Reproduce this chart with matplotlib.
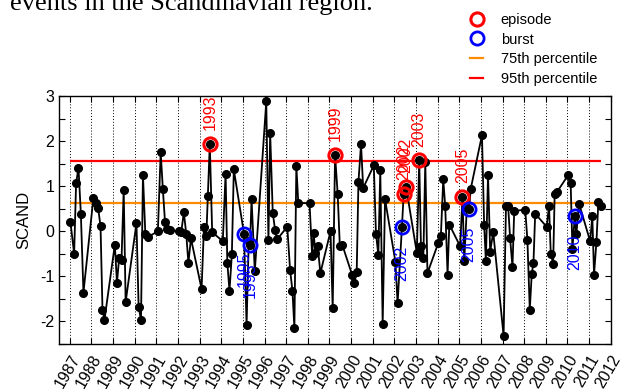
import matplotlib
matplotlib.use("Agg")
import matplotlib.pyplot as plt
from matplotlib.lines import Line2D

plt.rcParams['font.family'] = ['Liberation Sans', 'DejaVu Sans']

# ---- data ----
dates = [
    1987.03, 1987.20, 1987.29, 1987.40, 1987.51, 1987.63,
    1988.09, 1988.19, 1988.31, 1988.42, 1988.51, 1988.60,
    1989.08, 1989.18, 1989.28, 1989.39, 1989.49, 1989.58,
    1990.08, 1990.18, 1990.29, 1990.38, 1990.49, 1990.60,
    1991.07, 1991.20, 1991.30, 1991.40, 1991.50, 1991.62,
    1992.04, 1992.15, 1992.27, 1992.38, 1992.48, 1992.60,
    1993.09, 1993.20, 1993.31, 1993.38, 1993.47, 1993.58,
    1994.07, 1994.20, 1994.28, 1994.38, 1994.49, 1994.58,
    1995.05, 1995.17, 1995.27, 1995.33, 1995.40, 1995.55,
    1996.08, 1996.18, 1996.26, 1996.38, 1996.49, 1996.58,
    1997.05, 1997.18, 1997.29, 1997.38, 1997.47, 1997.56,
    1998.08, 1998.20, 1998.27, 1998.35, 1998.46, 1998.58,
    1999.05, 1999.15, 1999.26, 1999.38, 1999.48, 1999.60,
    2000.05, 2000.15, 2000.26, 2000.34, 2000.46, 2000.56,
    2001.05, 2001.15, 2001.26, 2001.35, 2001.46, 2001.57,
    2002.05, 2002.15, 2002.35, 2002.43, 2002.54,
    2003.04, 2003.15, 2003.23, 2003.34, 2003.43, 2003.53,
    2004.03, 2004.15, 2004.26, 2004.35, 2004.46, 2004.54,
    2005.04, 2005.15, 2005.23, 2005.35, 2005.46, 2005.53,
    2006.05, 2006.15, 2006.23, 2006.33, 2006.43, 2006.57,
    2007.05, 2007.16, 2007.26, 2007.35, 2007.46, 2007.54,
    2008.05, 2008.15, 2008.26, 2008.35, 2008.43, 2008.51,
    2009.04, 2009.15, 2009.23, 2009.34, 2009.41, 2009.53,
    2010.04, 2010.15, 2010.23, 2010.34, 2010.41, 2010.54,
    2011.05, 2011.15, 2011.23, 2011.34, 2011.43, 2011.54,
]
scand = [
    0.20, -0.50, 1.06, 1.41, 0.39, -1.36,
    0.74, 0.63, 0.51, 0.11, -1.74, -1.97,
    -0.30, -1.14, -0.59, -0.63, 0.91, -1.57,
    0.18, -1.67, -1.97, 1.25, -0.05, -0.13,
    0.00, 1.75, 0.94, 0.20, 0.04, 0.02,
    0.00, -0.02, 0.42, -0.05, -0.70, -0.16,
    -1.28, 0.10, -0.10, 0.78, 1.93, -0.02,
    -0.22, 1.28, -0.70, -1.32, -0.51, 1.37,
    -0.05, -2.07, -0.22, -0.30, 0.72, -0.89,
    2.88, -0.20, 2.18, 0.41, 0.02, -0.18,
    0.10, -0.85, -1.32, -2.15, 1.45, 0.63,
    0.62, -0.54, -0.04, -0.48, -0.33, -0.93,
    0.00, -1.71, 1.69, 0.83, -0.33, -0.31,
    -0.97, -1.14, -0.91, 1.09, 1.93, 0.96,
    1.46, -0.05, -0.52, 1.35, -2.06, 0.71,
    -0.68, -1.60, 0.09, 0.82, 0.99,
    -0.48, 1.57, -0.33, -0.59, 1.54, -0.93,
    -0.26, -0.11, 1.15, 0.57, -0.96, 0.15,
    -0.33, 0.77, -0.67, 0.52, 0.50, 0.94,
    2.13, 0.15, -0.65, 1.24, -0.45, -0.02,
    -2.32, 0.57, 0.56, -0.15, -0.79, 0.45,
    0.48, -0.20, -1.74, -0.95, -0.70, 0.39,
    0.10, 0.56, -0.50, -0.72, 0.83, 0.88,
    1.25, 1.06, -0.39, 0.33, -0.07, 0.61,
    -0.22, 0.33, -0.96, -0.24, 0.65, 0.56,
]

episode_dates = [1993.47, 1999.26, 2002.43, 2002.54, 2003.15, 2005.15]
episode_vals = [1.93, 1.69, 0.82, 0.99, 1.57, 0.77]
episode_labels = ['1993', '1999', '2002', '2002', '2003', '2005']

burst_dates = [1995.05, 1995.33, 2002.35, 2005.46, 2010.34]
burst_vals = [-0.05, -0.30, 0.09, 0.50, 0.33]
burst_labels = ['1995', '1995', '2002', '2005', '2010']

p75 = 0.62
p95 = 1.56

years = list(range(1987, 2013))
yticks = [-2, -1, 0, 1, 2, 3]

# ---- figure ----
fig = plt.figure(figsize=(6.31, 3.92), dpi=100)
ax = fig.add_axes([59/631, 1-344/392, (610.7-59)/631, (344-96)/392])

ax.hlines(p75, dates[0], dates[-1], color='#ff8c00', lw=1.6, zorder=2)
ax.hlines(p95, dates[0], dates[-1], color='#ff0000', lw=1.6, zorder=2)

ax.plot(dates, scand, '-o', color='black', lw=1.3, ms=5.5, zorder=3)

ax.plot(episode_dates, episode_vals, 'o', ms=9.5, mfc='none', mec='#ff0000', mew=2.2, zorder=4)
ax.plot(burst_dates, burst_vals, 'o', ms=9.5, mfc='none', mec='#0000ff', mew=2.0, zorder=4)

for d, v, t in zip(episode_dates, episode_vals, episode_labels):
    ax.annotate(t, (d, v), xytext=(0, 10), textcoords='offset points', rotation=90,
                ha='center', va='bottom', color='#ff0000', fontsize=11.5,
                annotation_clip=False, clip_on=True, zorder=5)
for d, v, t in zip(burst_dates, burst_vals, burst_labels):
    ax.annotate(t, (d, v), xytext=(0, -13), textcoords='offset points', rotation=90,
                ha='center', va='top', color='#0000ff', fontsize=11.5, zorder=5)

ax.set_xlim(1986.5, 2012)
ax.set_ylim(-2.5, 3)
ax.set_xticks(years)
ax.set_xticklabels([str(y) for y in years], rotation=60, ha='right', va='top',
                   rotation_mode='anchor', fontsize=11.5)
ax.set_yticks(yticks)
ax.set_yticklabels([str(y) for y in yticks], fontsize=11.5)
ax.set_yticks([-2.5, -1.5, -0.5, 0.5, 1.5, 2.5], minor=True)
ax.tick_params(which='both', direction='in', top=True, right=True, length=4, width=0.8)
ax.tick_params(axis='x', pad=6)
ax.grid(axis='x', linestyle=(0, (1, 2)), color='black', lw=0.7)
ax.set_ylabel('SCAND', fontsize=12, labelpad=6)
for s in ax.spines.values():
    s.set_linewidth(1.0)

handles = [
    Line2D([], [], ls='none', marker='o', ms=9.5, mfc='none', mec='#ff0000', mew=2.2),
    Line2D([], [], ls='none', marker='o', ms=9.5, mfc='none', mec='#0000ff', mew=2.0),
    Line2D([], [], color='#ff8c00', lw=1.6),
    Line2D([], [], color='#ff0000', lw=1.6),
]
fig.legend(handles, ['episode', 'burst', '75th percentile', '95th percentile'],
           loc='upper left', bbox_to_anchor=(470/631, 1 - 13/392), frameon=False,
           fontsize=10.5, handlelength=0.9, handletextpad=1.2, labelspacing=0.38,
           borderpad=0, borderaxespad=0)

fig.text(10/631, 1 - 10/392, 'events in the Scandinavian region.', family='Liberation Serif',
         fontsize=19, va='baseline', ha='left')

fig.savefig('out.png', dpi=100)
